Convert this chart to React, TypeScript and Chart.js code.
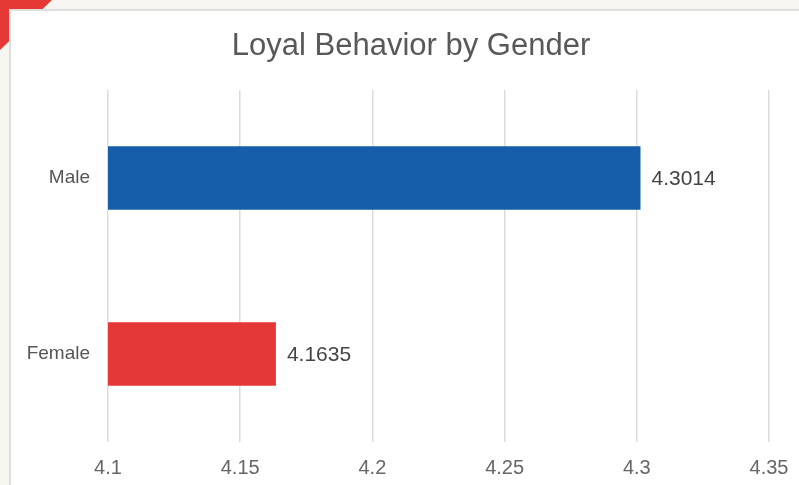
import React, { useEffect, useRef } from "react";
import { Chart, registerables } from "chart.js";

Chart.register(...registerables);

const title = "Loyal Behavior by Gender";
const categories = ["Male", "Female"];
const values = [4.3014, 4.1635];
const barColors = ["#165ea9", "#e33837"];
const xMin = 4.1;
const xMax = 4.35;
const xStep = 0.05;

const FONT = "'Liberation Sans', Arial, Helvetica, sans-serif";

const valueLabels = {
  id: "valueLabels",
  afterDatasetsDraw(chart: any) {
    const ctx = chart.ctx;
    const meta = chart.getDatasetMeta(0);
    ctx.save();
    ctx.font = `21px ${FONT}`;
    ctx.fillStyle = "#444444";
    ctx.textAlign = "left";
    ctx.textBaseline = "middle";
    meta.data.forEach((bar: any, i: number) => {
      ctx.fillText(String(values[i]), bar.x + 11, bar.y + 1);
    });
    ctx.restore();
  },
};

const titleDraw = {
  id: "titleDraw",
  afterDraw(chart: any) {
    const ctx = chart.ctx;
    ctx.save();
    ctx.font = `31px ${FONT}`;
    ctx.fillStyle = "#585858";
    ctx.textAlign = "center";
    ctx.textBaseline = "alphabetic";
    ctx.fillText(title, 411, 55);
    ctx.restore();
  },
};

export default function App() {
  const ref = useRef<HTMLCanvasElement>(null);
  useEffect(() => {
    if (!ref.current) return;
    const chart = new Chart(ref.current, {
      type: "bar",
      data: {
        labels: categories,
        datasets: [
          {
            data: values,
            backgroundColor: barColors,
            borderWidth: 0,
            categoryPercentage: 1,
            barPercentage: 0.36,
          },
        ],
      },
      options: {
        indexAxis: "y",
        animation: false,
        responsive: false,
        maintainAspectRatio: false,
        layout: { padding: { top: 90, right: 30, bottom: 6, left: 0 } },
        plugins: {
          legend: { display: false },
          tooltip: { enabled: false },
          title: { display: false },
        },
        scales: {
          x: {
            type: "linear",
            min: xMin,
            max: xMax,
            ticks: {
              stepSize: xStep,
              color: "#666666",
              font: { family: FONT, size: 20 },
              padding: 14,
              maxRotation: 0,
              callback: (v: any) => String(Number(Number(v).toFixed(2))),
            },
            grid: { color: "#dcdcdc", lineWidth: 1.5, drawTicks: false },
            border: { display: false },
            afterFit: (scale: any) => {
              scale.height = 37;
              scale.paddingRight = 0;
              scale.paddingLeft = 0;
            },
          },
          y: {
            ticks: {
              color: "#555555",
              font: { family: FONT, size: 19 },
              padding: 18,
            },
            grid: { display: false, drawTicks: false },
            border: { display: false },
            afterFit: (scale: any) => {
              scale.width = 108;
            },
          },
        },
      },
      plugins: [valueLabels, titleDraw],
    });
    return () => chart.destroy();
  }, []);

  return (
    <div
      style={{
        position: "fixed",
        left: 0,
        top: 0,
        width: 799,
        height: 485,
        background: "#f6f5f0",
        overflow: "hidden",
      }}
    >
      <div
        style={{
          position: "absolute",
          left: 0,
          top: 0,
          width: 52,
          height: 50,
          background: "#e53935",
          clipPath: "polygon(0 0, 100% 0, 0 100%)",
        }}
      />
      <div
        style={{
          position: "absolute",
          left: 9,
          top: 9,
          width: 800,
          height: 480,
          background: "#ffffff",
          borderTop: "2px solid #dedede",
          borderLeft: "2px solid #dedede",
          boxSizing: "border-box",
        }}
      />
      <canvas
        ref={ref}
        width={799}
        height={485}
        style={{ position: "absolute", left: 0, top: 0, width: 799, height: 485 }}
      />
    </div>
  );
}
